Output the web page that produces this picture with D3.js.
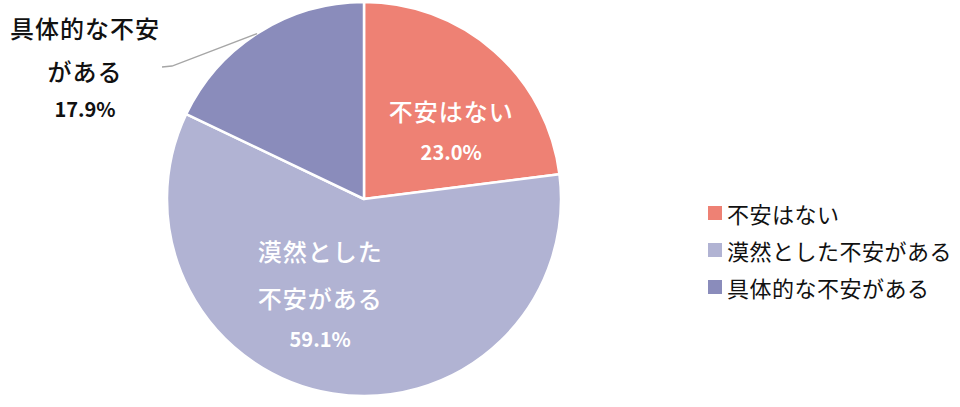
<!DOCTYPE html>
<html><head><meta charset="utf-8">
<script src="https://cdn.jsdelivr.net/npm/d3@7"></script>
<style>
html,body{margin:0;padding:0;background:#fff;}
svg{display:block;}
text{font-family:"Noto Sans CJK JP","Noto Sans",sans-serif;}
</style></head>
<body>
<script>
const categories = ["不安はない", "漠然とした不安がある", "具体的な不安がある"];
const values = [23.0, 59.1, 17.9];
const labelLines = [["不安はない"], ["漠然とした", "不安がある"], ["具体的な不安", "がある"]];
const colors = ["#EE8174", "#B1B3D3", "#8A8CBB"];

const W = 960, H = 407;
const cx = 364, cy = 199, R = 197;

const svg = d3.select("body").append("svg").attr("width", W).attr("height", H);
const g = svg.append("g").attr("transform", `translate(${cx},${cy})`);

const pie = d3.pie().sort(null).value(d => d)(values);
const arc = d3.arc().innerRadius(0).outerRadius(R);

g.selectAll("path.slice").data(pie).join("path")
  .attr("class", "slice")
  .attr("d", arc)
  .attr("fill", (d, i) => colors[i])
  .attr("stroke", "#fff").attr("stroke-width", 2.5).attr("stroke-linejoin", "round");

const labelArc = d3.arc().innerRadius(R * 0.6).outerRadius(R * 0.6);
const adj = [[9, 0], [-25, -65]];
const catSize = 24, pctSize = 20;

[0, 1].forEach(i => {
  const c = labelArc.centroid(pie[i]);
  const x = c[0] + adj[i][0], top = c[1] + adj[i][1];
  const lines = labelLines[i];
  const lh = 47, n = lines.length;
  lines.forEach((t, k) => {
    g.append("text").attr("x", x).attr("y", top + k * lh)
      .attr("text-anchor", "middle").attr("dominant-baseline", "central")
      .attr("fill", "#fff").attr("font-size", catSize).attr("font-weight", 500)
      .attr("letter-spacing", 1)
      .text(t);
  });
  g.append("text").attr("x", x).attr("y", top + (n - 1) * lh + 41)
    .attr("text-anchor", "middle").attr("dominant-baseline", "central")
    .attr("fill", "#fff").attr("font-size", pctSize).attr("font-weight", 700)
    .text(values[i].toFixed(1) + "%");
});

{
  const lx = 85 - cx;
  const l2 = labelLines[2];
  g.append("text").attr("x", lx).attr("y", 27 - cy).attr("text-anchor", "middle")
    .attr("dominant-baseline", "central").attr("font-size", catSize).attr("fill", "#111")
    .attr("font-weight", 500).attr("letter-spacing", 1).text(l2[0]);
  g.append("text").attr("x", lx).attr("y", 70 - cy).attr("text-anchor", "middle")
    .attr("dominant-baseline", "central").attr("font-size", catSize).attr("fill", "#111")
    .attr("font-weight", 500).attr("letter-spacing", 1).text(l2[1]);
  g.append("text").attr("x", lx).attr("y", 108 - cy).attr("text-anchor", "middle")
    .attr("dominant-baseline", "central").attr("font-size", pctSize).attr("font-weight", 700)
    .attr("fill", "#111").text(values[2].toFixed(1) + "%");
  const a = pie[2].startAngle + (pie[2].endAngle - pie[2].startAngle) * 0.49;
  const ex = R * Math.sin(a), ey = -R * Math.cos(a);
  g.append("path")
    .attr("d", `M${162 - cx},${67 - cy}L${172 - cx},${66 - cy}L${ex},${ey}`)
    .attr("fill", "none").attr("stroke", "#a6a6a6").attr("stroke-width", 1.3);
}

const lg = svg.append("g").attr("transform", "translate(708,213)");
categories.forEach((c, i) => {
  const row = lg.append("g").attr("transform", `translate(0,${i * 37})`);
  row.append("rect").attr("x", 0).attr("y", -7).attr("width", 14).attr("height", 14).attr("fill", colors[i]);
  row.append("text").attr("x", 19).attr("y", 0).attr("dominant-baseline", "central")
    .attr("font-size", 22).attr("letter-spacing", 0.5).attr("fill", "#111").text(c);
});
</script>
</body></html>
